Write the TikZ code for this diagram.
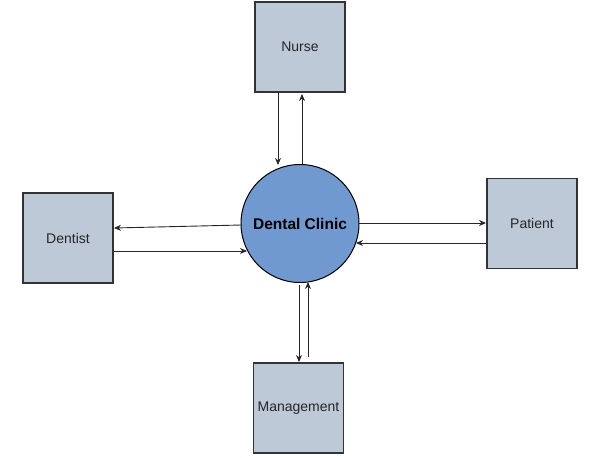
\documentclass[tikz,border=0pt]{standalone}
\usepackage{fontspec}
\setmainfont{Liberation Sans}
\usetikzlibrary{arrows.meta}
\definecolor{boxfill}{HTML}{BDC9D7}
\definecolor{circfill}{HTML}{7099CF}
\definecolor{edge}{HTML}{333333}
\begin{document}
\begin{tikzpicture}[x=1pt,y=-1pt,
  entity/.style={draw=edge,line width=1.3pt,fill=boxfill,minimum width=90pt,minimum height=90pt,inner sep=0pt,font=\fontsize{14}{16}\selectfont,text=black!85},
  flow/.style={draw=black!85,line width=0.9pt,-{Stealth[length=7pt,width=6pt]}}]
\useasboundingbox (0,0) rectangle (606,458);
\node[entity] (nurse) at (300,47) {Nurse};
\node[entity] (dentist) at (68,238) {Dentist};
\node[entity] (patient) at (532,223.5) {Patient};
\node[entity] (mgmt) at (298.5,408) {Management};
\node[circle,draw=black,line width=1pt,fill=circfill,minimum size=118pt,inner sep=0pt,font=\bfseries\fontsize{15.5}{18}\selectfont] (dc) at (300,223.5) {Dental Clinic};
% Nurse
\coordinate (n1s) at (278,92);
\coordinate (n1e) at (278,165);
\draw[flow] (n1s) -- (n1e);
\coordinate (n2s) at (302,163.5);
\coordinate (n2e) at (302,94);
\draw[flow] (n2s) -- (n2e);
% Dentist
\coordinate (d1s) at (241.5,225);
\coordinate (d1e) at (114,228);
\draw[flow] (d1s) -- (d1e);
\coordinate (d2s) at (114,251);
\coordinate (d2e) at (247,251);
\draw[flow] (d2s) -- (d2e);
% Patient
\coordinate (p1s) at (359,223);
\coordinate (p1e) at (486,223);
\draw[flow] (p1s) -- (p1e);
\coordinate (p2s) at (486,243);
\coordinate (p2e) at (356,243);
\draw[flow] (p2s) -- (p2e);
% Management
\coordinate (m1s) at (299,285);
\coordinate (m1e) at (299,362);
\draw[flow] (m1s) -- (m1e);
\coordinate (m2s) at (308,357);
\coordinate (m2e) at (308,282);
\draw[flow] (m2s) -- (m2e);
\end{tikzpicture}
\end{document}
